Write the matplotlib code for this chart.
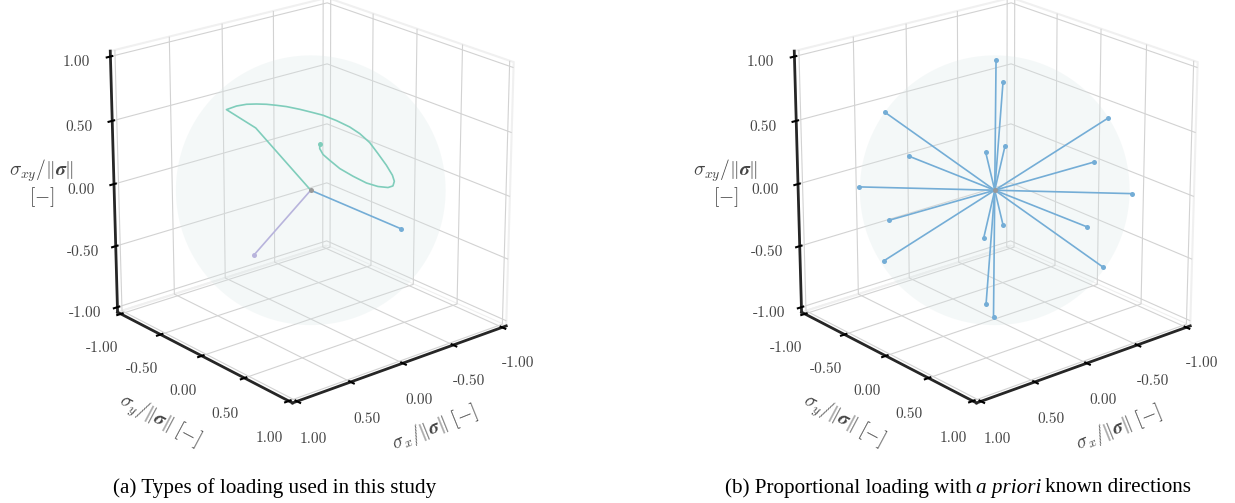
import numpy as np
import matplotlib
matplotlib.use('Agg')
import matplotlib.pyplot as plt
from mpl_toolkits.mplot3d.art3d import Poly3DCollection

plt.rcParams['mathtext.fontset'] = 'cm'

tick_vals = [-1.0, -0.5, 0.0, 0.5, 1.0]
tick_labels = ['-1.00', '-0.50', '0.00', '0.50', '1.00']

# left panel: non proportional path, then the two proportional ones
path_x = [0.0, 0.206, 0.341, 0.278, 0.218, 0.161, 0.105, 0.050, -0.005, -0.076, -0.146, -0.198, -0.265, -0.329, -0.375,
          -0.416, -0.444, -0.472, -0.489, -0.490, -0.474, -0.443, -0.388, -0.329, -0.264, -0.202, -0.159, -0.131, -0.122, -0.130]
path_y = [0.0, -0.389, -0.566, -0.525, -0.481, -0.434, -0.386, -0.336, -0.286, -0.217, -0.147, -0.094, -0.019, 0.057, 0.118,
          0.184, 0.246, 0.310, 0.359, 0.380, 0.383, 0.363, 0.313, 0.250, 0.173, 0.094, 0.030, -0.014, -0.042, -0.051]
path_z = [0.0, 0.431, 0.558, 0.583, 0.595, 0.597, 0.595, 0.588, 0.579, 0.560, 0.537, 0.519, 0.482, 0.438, 0.392,
          0.330, 0.254, 0.173, 0.104, 0.062, 0.030, 0.019, 0.026, 0.050, 0.097, 0.150, 0.207, 0.247, 0.288, 0.320]
blue_end = [0.0, 1.0, 0.0]
purple_end = [0.89, 0.432, -0.147]

# right panel: known directions, each one loaded both ways
dir_x = [-0.040, 0.577, 0.566, -0.648, 0.564, 0.701, -0.019, 1.000, -0.739]
dir_y = [-0.033, 0.590, -0.583, 0.518, 0.572, 0.713, 1.000, 0.009, 0.694]
dir_z = [0.999, -0.564, 0.583, 0.558, 0.596, 0.019, 0.010, 0.018, -0.005]

W, H = 1235, 503
dark = '#262626'
ELEV, AZIM = 21, 50
GREEN, BLUE, PURPLE, CENTER = '#7fcdbb', '#74add6', '#b8b4dc', '#999999'


def setup(cx, cy, S=250, zoom=0.945):
    ax = fig.add_axes([(cx - S) / W, (H - cy - S) / H, 2 * S / W, 2 * S / H], projection='3d', computed_zorder=False)
    ax.patch.set_alpha(0)
    ax.view_init(elev=ELEV, azim=AZIM)
    ax.set_box_aspect((1, 1, 1), zoom=zoom)
    ax.set_xlim(-1, 1, view_margin=1 / 48); ax.set_ylim(-1, 1, view_margin=1 / 48); ax.set_zlim(-1, 1, view_margin=1 / 48)
    for axis in (ax.xaxis, ax.yaxis, ax.zaxis):
        axis.set_ticks(tick_vals)
        axis.set_ticklabels(tick_labels, fontfamily='cmr10', fontsize=11, color='#444444')
        axis.set_pane_color((1, 1, 1, 0))
        axis.pane.set_edgecolor('#f0f0f0')
        axis.pane.set_alpha(1)
        axis.pane.set_linewidth(1.5)
        axis.line.set_color(dark)
        axis.line.set_linewidth(2)
        axis._axinfo['tick']['color'] = dark
        axis._axinfo['tick']['linewidth'] = {True: 1.5, False: 1.0}
        axis._axinfo['grid']['color'] = '#d2d2d2'
        axis._axinfo['grid']['linewidth'] = 0.8
    ax.tick_params(pad=8)
    # sphere outline seen from the camera, one flat polygon so no facet seams show
    a, e = np.radians(AZIM), np.radians(ELEV)
    right = np.array([-np.sin(a), np.cos(a), 0])
    up = np.array([-np.cos(a) * np.sin(e), -np.sin(a) * np.sin(e), np.cos(e)])
    t = np.linspace(0, 2 * np.pi, 181)
    disc = np.outer(np.cos(t), right) + np.outer(np.sin(t), up)
    ax.add_collection3d(Poly3DCollection([disc], facecolor='#d8e6e6', alpha=0.26, edgecolor='none', zorder=1))
    return ax


def end_dot(ax, p, color):
    ax.plot([p[0]], [p[1]], [p[2]], 'o', color=color, ms=3.6, mew=0, zorder=4)


fig = plt.figure(figsize=(12.35, 5.03), dpi=100)
ax1 = setup(304, 197)
ax2 = setup(988, 197)

ax1.plot(path_x, path_y, path_z, color=GREEN, lw=1.2, zorder=3)
end_dot(ax1, (path_x[-1], path_y[-1], path_z[-1]), GREEN)
for end, col in ((purple_end, PURPLE), (blue_end, BLUE)):
    ax1.plot([0, end[0]], [0, end[1]], [0, end[2]], color=col, lw=1.2, zorder=3)
    end_dot(ax1, end, col)
end_dot(ax1, (0, 0, 0), CENTER)

for x, y, z in zip(dir_x, dir_y, dir_z):
    ax2.plot([-x, x], [-y, y], [-z, z], color=BLUE, lw=1.2, zorder=3)
    end_dot(ax2, (x, y, z), BLUE)
    end_dot(ax2, (-x, -y, -z), BLUE)
end_dot(ax2, (0, 0, 0), CENTER)

# axis labels, second panel sits 684 px right of the first
lab_col = '#444444'
for dx in (0, 684):
    fig.text((434 + dx) / W, 1 - 427 / H, r'$\sigma_x/\|\boldsymbol{\sigma}\|\ [-]$', fontsize=14, rotation=22, ha='center', va='center', color=lab_col)
    fig.text((160 + dx) / W, 1 - 420 / H, r'$\sigma_y/\|\boldsymbol{\sigma}\|\ [-]$', fontsize=14, rotation=-28, ha='center', va='center', color=lab_col)
    fig.text((42 + dx) / W, 1 - 183 / H, '$\\sigma_{xy}/\\|\\boldsymbol{\\sigma}\\|$\n$[-]$', fontsize=14, ha='center', va='center', ma='center', color=lab_col, linespacing=1.1)

cap_y = 1 - 488 / H
fig.text(275 / W, cap_y, '(a) Types of loading used in this study', family='Liberation Serif', fontsize=15.2, ha='center', va='center')

# caption (b) has an italic part, so lay the pieces out one after the other
x_pos = 725
for txt, style in (('(b) Proportional loading with', 'normal'), ('a priori', 'italic'), ('known directions', 'normal')):
    t = fig.text(x_pos / W, cap_y, txt, family='Liberation Serif', style=style, fontsize=15.2, ha='left', va='center')
    x_pos += t.get_window_extent(fig.canvas.get_renderer()).width + 4

fig.savefig('out.png', dpi=100)
